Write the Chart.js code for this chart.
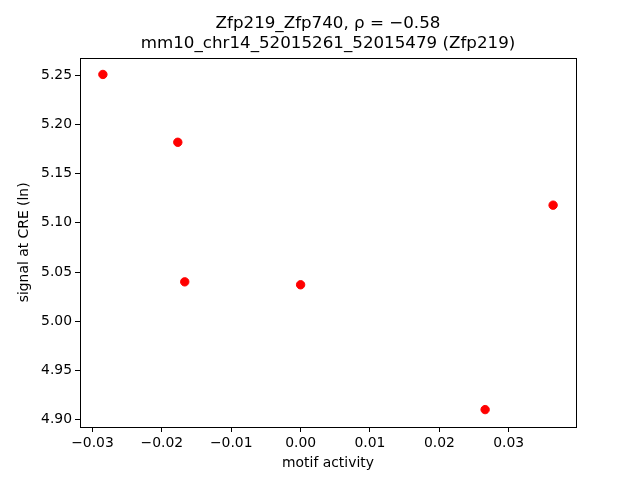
<!DOCTYPE html>
<html>
<head>
<meta charset="utf-8">
<script src="https://cdn.jsdelivr.net/npm/chart.js@4/dist/chart.umd.min.js"></script>
<style>body{margin:0;background:#fff}</style>
</head>
<body>
<canvas id="grafico" width="640" height="480"></canvas>
<script>
// valores
const actividad = [-0.0285, -0.0177, -0.0167, 0.0000, 0.0266, 0.0364];
const senal = [5.251, 5.182, 5.040, 5.037, 4.910, 5.118];
const ticksX = [-0.03, -0.02, -0.01, 0.00, 0.01, 0.02, 0.03];
const ticksY = [4.90, 4.95, 5.00, 5.05, 5.10, 5.15, 5.20, 5.25];
const titulo = ['Zfp219_Zfp740, ρ = −0.58', 'mm10_chr14_52015261_52015479 (Zfp219)'];

Chart.defaults.font.family = 'DejaVu Sans';
Chart.defaults.color = '#000';

function formatear(v) {
  const s = Math.abs(v) < 1e-9 ? '0.00' : v.toFixed(2);
  return s.replace('-', '\u2212');
}

// caja completa alrededor del area, y titulo centrado sobre ella
const marco = {
  id: 'marco',
  afterLayout(chart) {
    if (chart.titleBlock) {
      chart.titleBlock.left = chart.chartArea.left;
      chart.titleBlock.right = chart.chartArea.right;
    }
  },
  afterDraw(chart) {
    const { ctx, chartArea: a } = chart;
    ctx.save();
    ctx.strokeStyle = '#000';
    ctx.lineWidth = 1;
    ctx.strokeRect(Math.round(a.left) + 0.5, Math.round(a.top) + 0.5,
      Math.round(a.right - a.left), Math.round(a.bottom - a.top));
    ctx.restore();
  }
};

const ejeGrid = { display: true, drawOnChartArea: false, drawTicks: true, tickLength: 5, tickColor: '#000', tickWidth: 1 };

const puntos = actividad.map((x, i) => ({ x: x, y: senal[i] }));

new Chart(document.getElementById('grafico').getContext('2d'), {
  type: 'scatter',
  data: {
    datasets: [{
      data: puntos,
      backgroundColor: '#ff0000',
      borderColor: '#ff0000',
      pointRadius: 4.2,
      pointHoverRadius: 4.2
    }]
  },
  options: {
    responsive: false,
    animation: false,
    layout: { padding: { left: 0, right: 64, top: 0, bottom: 0 } },
    plugins: {
      legend: { display: false },
      tooltip: { enabled: false },
      title: {
        display: true,
        text: titulo,
        color: '#000',
        font: { size: 16.7, weight: 'normal', lineHeight: 1.22 },
        padding: { top: 13, bottom: 4 }
      }
    },
    scales: {
      x: {
        type: 'linear',
        min: -0.0318,
        max: 0.0397,
        afterBuildTicks: s => { s.ticks = ticksX.map(v => ({ value: v })); },
        afterFit: s => { s.height = 53; },
        grid: ejeGrid,
        border: { display: false },
        ticks: { callback: v => formatear(v), font: { size: 13.9 }, padding: 3, maxRotation: 0, autoSkip: false },
        title: { display: true, text: 'motif activity', font: { size: 13.9 }, padding: { top: 0, bottom: 8 } }
      },
      y: {
        type: 'linear',
        min: 4.8923,
        max: 5.268,
        afterBuildTicks: s => { s.ticks = ticksY.map(v => ({ value: v })); },
        afterFit: s => { s.width = 80; },
        grid: ejeGrid,
        border: { display: false },
        ticks: { callback: v => formatear(v), font: { size: 13.9 }, padding: 3, autoSkip: false },
        title: { display: true, text: 'signal at CRE (ln)', font: { size: 13.9 }, padding: { top: 16, bottom: 0 } }
      }
    }
  },
  plugins: [marco]
});
</script>
</body>
</html>
